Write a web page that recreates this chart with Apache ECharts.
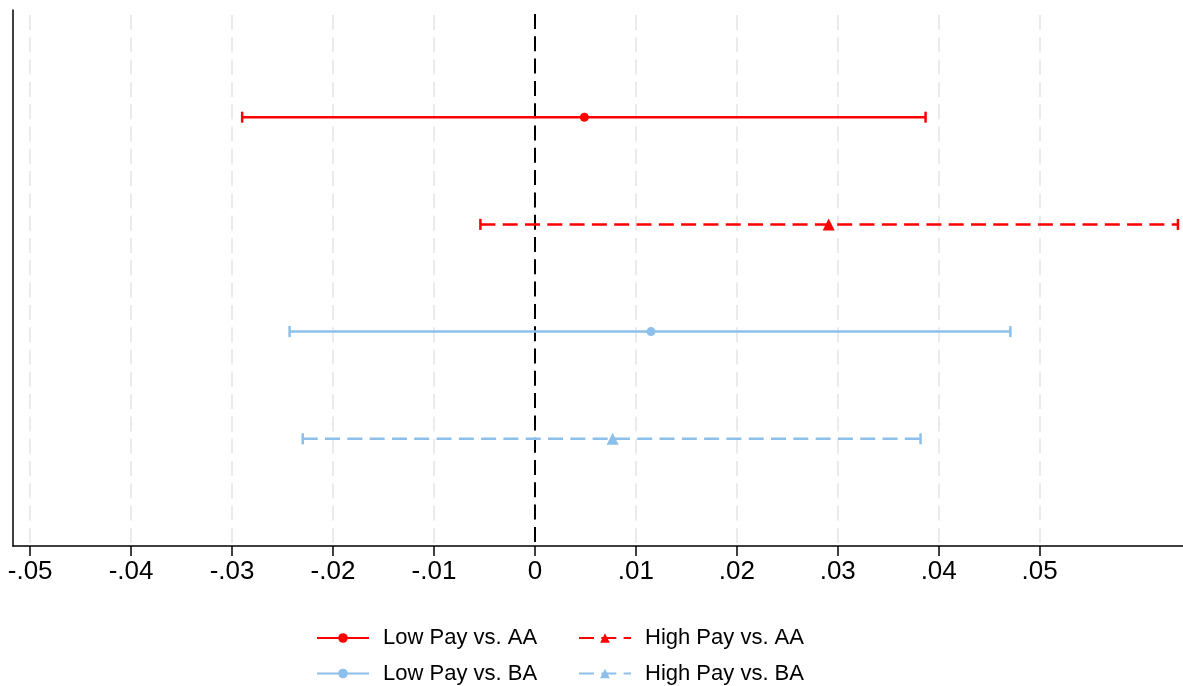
<!DOCTYPE html>
<html><head><meta charset="utf-8">
<script src="https://cdn.jsdelivr.net/npm/echarts@6/dist/echarts.min.js"></script>
<style>html,body{margin:0;padding:0;background:#fff}#c{width:1183px;height:686px}</style>
</head><body><div id="c"></div>
<script>
const seriesNames = ['Low Pay vs. AA', 'High Pay vs. AA', 'Low Pay vs. BA', 'High Pay vs. BA'];
const estimates = [0.0049, 0.0291, 0.0115, 0.0077];
const ciLow = [-0.0290, -0.0054, -0.0243, -0.0230];
const ciHigh = [0.0387, 0.0637, 0.0471, 0.0382];
const tickValues = [-0.05, -0.04, -0.03, -0.02, -0.01, 0, 0.01, 0.02, 0.03, 0.04, 0.05];
const tickLabels = ['-.05', '-.04', '-.03', '-.02', '-.01', '0', '.01', '.02', '.03', '.04', '.05'];

const colors = ['#ff0000', '#ff0000', '#8cc0ea', '#8cc0ea'];
const dashed = [false, true, false, true];
const markers = ['circle', 'triangle', 'circle', 'triangle'];
const DASH = [15, 7.3];

const series = [];
series.push({
  type: 'line', name: '_grid', data: [], silent: true, z: 1,
  markLine: {
    silent: true, symbol: 'none', label: { show: false }, animation: false,
    lineStyle: { color: '#ebebeb', width: 2, type: DASH },
    data: tickValues.filter(v => v !== 0).map(v => [{ xAxis: v, y: 15 }, { xAxis: v, y: 546 }])
  }
});
series.push({
  type: 'line', name: '_zero', data: [], silent: true, z: 3,
  markLine: {
    silent: true, symbol: 'none', label: { show: false }, animation: false,
    lineStyle: { color: '#000', width: 2, type: DASH },
    data: [[{ xAxis: 0, y: 14 }, { xAxis: 0, y: 546 }]]
  }
});
seriesNames.forEach((name, i) => {
  const row = i + 1;
  series.push({
    type: 'line', name: name, z: 5,
    symbol: markers[i],
    symbolSize: markers[i] === 'circle' ? 9 : 12,
    lineStyle: { color: colors[i], width: 2.5, type: dashed[i] ? DASH : 'solid' },
    itemStyle: { color: colors[i] },
    animation: false,
    data: [
      { value: [ciLow[i], row], symbol: 'rect', symbolSize: [2.5, 11] },
      { value: [estimates[i], row] },
      { value: [ciHigh[i], row], symbol: 'rect', symbolSize: [2.5, 11] }
    ]
  });
});

const legendText = { color: '#000', fontSize: 22, fontFamily: 'Liberation Sans, Arial, sans-serif', lineHeight: 22, padding: [0, 0, 0, 9] };
const chart = echarts.init(document.getElementById('c'), null, { renderer: 'canvas' });
chart.setOption({
  animation: false,
  backgroundColor: '#fff',
  grid: { left: 13, right: 0, top: 10, bottom: 140, containLabel: false },
  xAxis: {
    type: 'value', min: -0.0517, max: 0.0642,
    axisLine: { show: true, onZero: false, lineStyle: { color: '#000', width: 1.5 } },
    axisTick: { show: true, length: 10, lineStyle: { color: '#000', width: 1.5 }, customValues: tickValues },
    axisLabel: {
      show: true, customValues: tickValues, margin: 13,
      color: '#000', fontSize: 26, fontFamily: 'Liberation Sans, Arial, sans-serif',
      formatter: v => { const k = tickValues.findIndex(t => Math.abs(t - v) < 1e-9); return k >= 0 ? tickLabels[k] : ''; }
    },
    splitLine: { show: false }
  },
  yAxis: {
    type: 'value', min: 0, max: 5, inverse: true,
    axisLine: { show: true, onZero: false, lineStyle: { color: '#000', width: 1.5 } },
    axisTick: { show: false }, axisLabel: { show: false }, splitLine: { show: false }
  },
  legend: [
    { orient: 'vertical', left: 316, top: 627, padding: 0, itemWidth: 52, itemHeight: 12, itemGap: 13.5,
      data: ['Low Pay vs. AA', 'Low Pay vs. BA'], textStyle: legendText, selectedMode: false },
    { orient: 'vertical', left: 578, top: 627, padding: 0, itemWidth: 52, itemHeight: 12, itemGap: 13.5,
      data: ['High Pay vs. AA', 'High Pay vs. BA'], textStyle: legendText, selectedMode: false }
  ],
  series: series
});
</script></body></html>
